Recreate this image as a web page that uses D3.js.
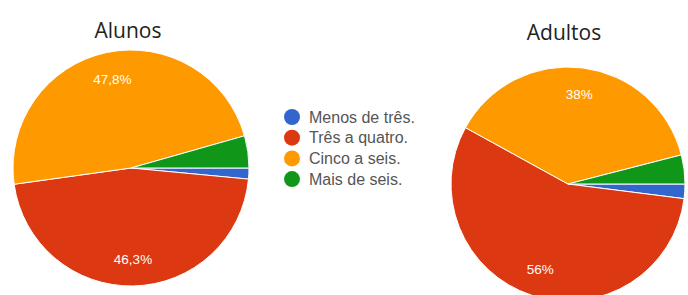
<!DOCTYPE html>
<html>
<head>
<meta charset="utf-8">
<script src="https://cdn.jsdelivr.net/npm/d3@7"></script>
<style>
  body { margin: 0; background: #fff; }
  text { font-family: Arial, "Liberation Sans", sans-serif; }
</style>
</head>
<body>
<svg id="chart"></svg>
<script>
// categories and colours (legend order)
const categories = ["Menos de três.", "Três a quatro.", "Cinco a seis.", "Mais de seis."];
const colors = ["#3366cc", "#dc3912", "#ff9900", "#109618"];

// percentages
const alunosValues = [1.5, 46.3, 47.8, 4.4];
const adultosValues = [2, 56, 38, 4];
const alunosLabels = ["", "46,3%", "47,8%", ""];
const adultosLabels = ["", "56%", "38%", ""];

const width = 688, height = 295;

let svg = d3.select("#chart")
    .attr("width", width)
    .attr("height", height);

let color = d3.scaleOrdinal().domain(categories).range(colors);

// slices start at 3 o'clock and go clockwise
let pie = d3.pie()
    .sort(null)
    .startAngle(Math.PI / 2)
    .endAngle(Math.PI / 2 + 2 * Math.PI);

function drawPie(title, values, labels, cx, cy, r, titleX, titleY) {
    let data = values.map((v, i) => ({ cat: categories[i], value: v, label: labels[i] }));
    let arcs = pie.value(d => d.value)(data);
    let arc = d3.arc().innerRadius(0).outerRadius(r);
    let labelArc = d3.arc().innerRadius(r * 0.77).outerRadius(r * 0.77);

    let g = svg.append("g").attr("transform", "translate(" + cx + "," + cy + ")");

    g.selectAll("path")
        .data(arcs)
        .enter()
        .append("path")
        .attr("d", arc)
        .attr("fill", d => color(d.data.cat))
        .attr("stroke", "#fff")
        .attr("stroke-width", 1);

    g.selectAll("text.lbl")
        .data(arcs.filter(d => d.data.label))
        .enter()
        .append("text")
        .attr("class", "lbl")
        .attr("transform", d => "translate(" + labelArc.centroid(d) + ")")
        .attr("text-anchor", "middle")
        .attr("dy", "0.35em")
        .attr("fill", "#fff")
        .attr("font-size", 13.5)
        .text(d => d.data.label);

    svg.append("text")
        .attr("x", titleX)
        .attr("y", titleY)
        .attr("text-anchor", "middle")
        .attr("font-size", 21)
        .style("font-family", "'Open Sans', sans-serif")
        .attr("fill", "#222")
        .text(title);
}

drawPie("Alunos", alunosValues, alunosLabels, 131, 168, 118, 128, 38);
drawPie("Adultos", adultosValues, adultosLabels, 568, 184, 117, 564, 40);

// legend
let legend = svg.append("g")
    .selectAll("g")
    .data(categories)
    .enter()
    .append("g")
    .attr("transform", (d, i) => "translate(292," + (117 + i * 20.7) + ")");

legend.append("circle")
    .attr("r", 8)
    .attr("fill", d => color(d));

legend.append("text")
    .attr("x", 17)
    .attr("dy", "0.35em")
    .attr("font-size", 16)
    .attr("fill", "#555")
    .text(d => d);
</script>
</body>
</html>
